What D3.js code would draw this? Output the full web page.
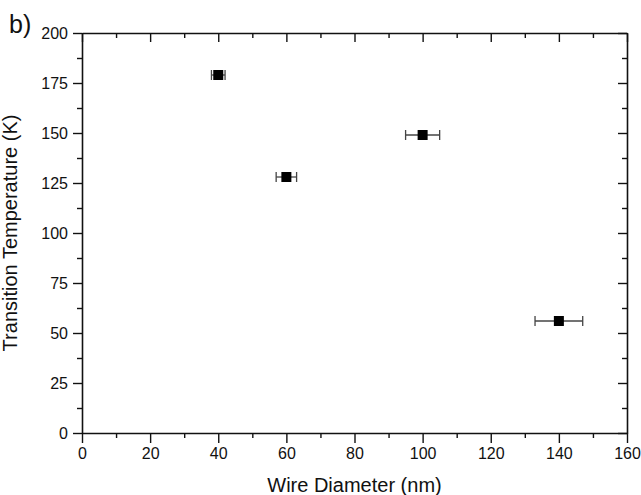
<!DOCTYPE html>
<html><head><meta charset="utf-8">
<script src="https://cdn.jsdelivr.net/npm/d3@7"></script>
<style>body{margin:0;background:#fff}svg{display:block}text{font-family:"Liberation Sans",Arial,sans-serif;fill:#111}</style>
</head><body>
<script>
const diameters = [40, 60, 100, 140];
const temperatures = [179, 128, 149, 56];
const diameterErrors = [2, 3, 5, 7];
const xTicks = [0, 20, 40, 60, 80, 100, 120, 140, 160];
const yTicks = [0, 25, 50, 75, 100, 125, 150, 175, 200];

const W = 641, H = 495;
const m = {left: 82, right: 14, top: 33, bottom: 62};
const svg = d3.select("body").append("svg").attr("width", W).attr("height", H);
const x = d3.scaleLinear().domain([0, 160]).range([m.left, W - m.right]);
const y = d3.scaleLinear().domain([0, 200]).range([H - m.bottom, m.top]);

const xMinor = d3.range(10, 160, 20);
const yMinor = d3.range(12.5, 200, 25);

function styleAxis(g) {
  g.selectAll("path.domain").attr("stroke", "#111").attr("stroke-width", 1.6);
  g.selectAll(".tick line").attr("stroke", "#111").attr("stroke-width", 1.4);
  g.selectAll("text").attr("font-size", 16).attr("fill", "#111");
}

// bottom
const gb = svg.append("g").attr("transform", `translate(0,${y(0)})`)
  .call(d3.axisBottom(x).tickValues(xTicks).tickSizeInner(10).tickSizeOuter(0).tickPadding(5).tickFormat(d3.format("d")));
styleAxis(gb);
svg.append("g").attr("transform", `translate(0,${y(0)})`)
  .call(d3.axisBottom(x).tickValues(xMinor).tickSize(5).tickFormat(""))
  .call(g => { g.select(".domain").remove(); styleAxis(g); });
// top
const gt = svg.append("g").attr("transform", `translate(0,${y(200)})`)
  .call(d3.axisBottom(x).tickValues(xTicks).tickSizeInner(9).tickSizeOuter(0).tickFormat(""));
styleAxis(gt);
svg.append("g").attr("transform", `translate(0,${y(200)})`)
  .call(d3.axisBottom(x).tickValues(xMinor).tickSize(5).tickFormat(""))
  .call(g => { g.select(".domain").remove(); styleAxis(g); });
// left
const gl = svg.append("g").attr("transform", `translate(${x(0)},0)`)
  .call(d3.axisLeft(y).tickValues(yTicks).tickSizeInner(9).tickSizeOuter(0).tickPadding(5).tickFormat(d3.format("d")));
styleAxis(gl);
svg.append("g").attr("transform", `translate(${x(0)},0)`)
  .call(d3.axisLeft(y).tickValues(yMinor).tickSize(5).tickFormat(""))
  .call(g => { g.select(".domain").remove(); styleAxis(g); });
// right
const gr = svg.append("g").attr("transform", `translate(${x(160)},0)`)
  .call(d3.axisLeft(y).tickValues(yTicks).tickSizeInner(9).tickSizeOuter(0).tickFormat(""));
styleAxis(gr);
svg.append("g").attr("transform", `translate(${x(160)},0)`)
  .call(d3.axisLeft(y).tickValues(yMinor).tickSize(5).tickFormat(""))
  .call(g => { g.select(".domain").remove(); styleAxis(g); });

// error bars
const data = diameters.map((d, i) => ({d, t: temperatures[i], e: diameterErrors[i]}));
const eb = svg.append("g").attr("stroke", "#444").attr("stroke-width", 1.3);
eb.selectAll("line.h").data(data).join("line")
  .attr("x1", d => x(d.d - d.e)).attr("x2", d => x(d.d + d.e))
  .attr("y1", d => y(d.t)).attr("y2", d => y(d.t));
eb.selectAll("line.cl").data(data).join("line")
  .attr("x1", d => x(d.d - d.e)).attr("x2", d => x(d.d - d.e))
  .attr("y1", d => y(d.t) - 5).attr("y2", d => y(d.t) + 5);
eb.selectAll("line.cr").data(data).join("line")
  .attr("x1", d => x(d.d + d.e)).attr("x2", d => x(d.d + d.e))
  .attr("y1", d => y(d.t) - 5).attr("y2", d => y(d.t) + 5);

// markers
const s = 10;
svg.append("g").selectAll("rect").data(data).join("rect")
  .attr("x", d => x(d.d) - s / 2).attr("y", d => y(d.t) - s / 2)
  .attr("width", s).attr("height", s).attr("fill", "#000");

// titles
svg.append("text").attr("x", (x(0) + x(160)) / 2).attr("y", 492)
  .attr("text-anchor", "middle").attr("font-size", 20).text("Wire Diameter (nm)");
svg.append("text").attr("transform", `translate(17,${(y(0) + y(200)) / 2}) rotate(-90)`)
  .attr("text-anchor", "middle").attr("font-size", 20).text("Transition Temperature (K)");
svg.append("text").attr("x", 9).attr("y", 33).attr("font-size", 25).text("b)");
</script>
</body></html>
